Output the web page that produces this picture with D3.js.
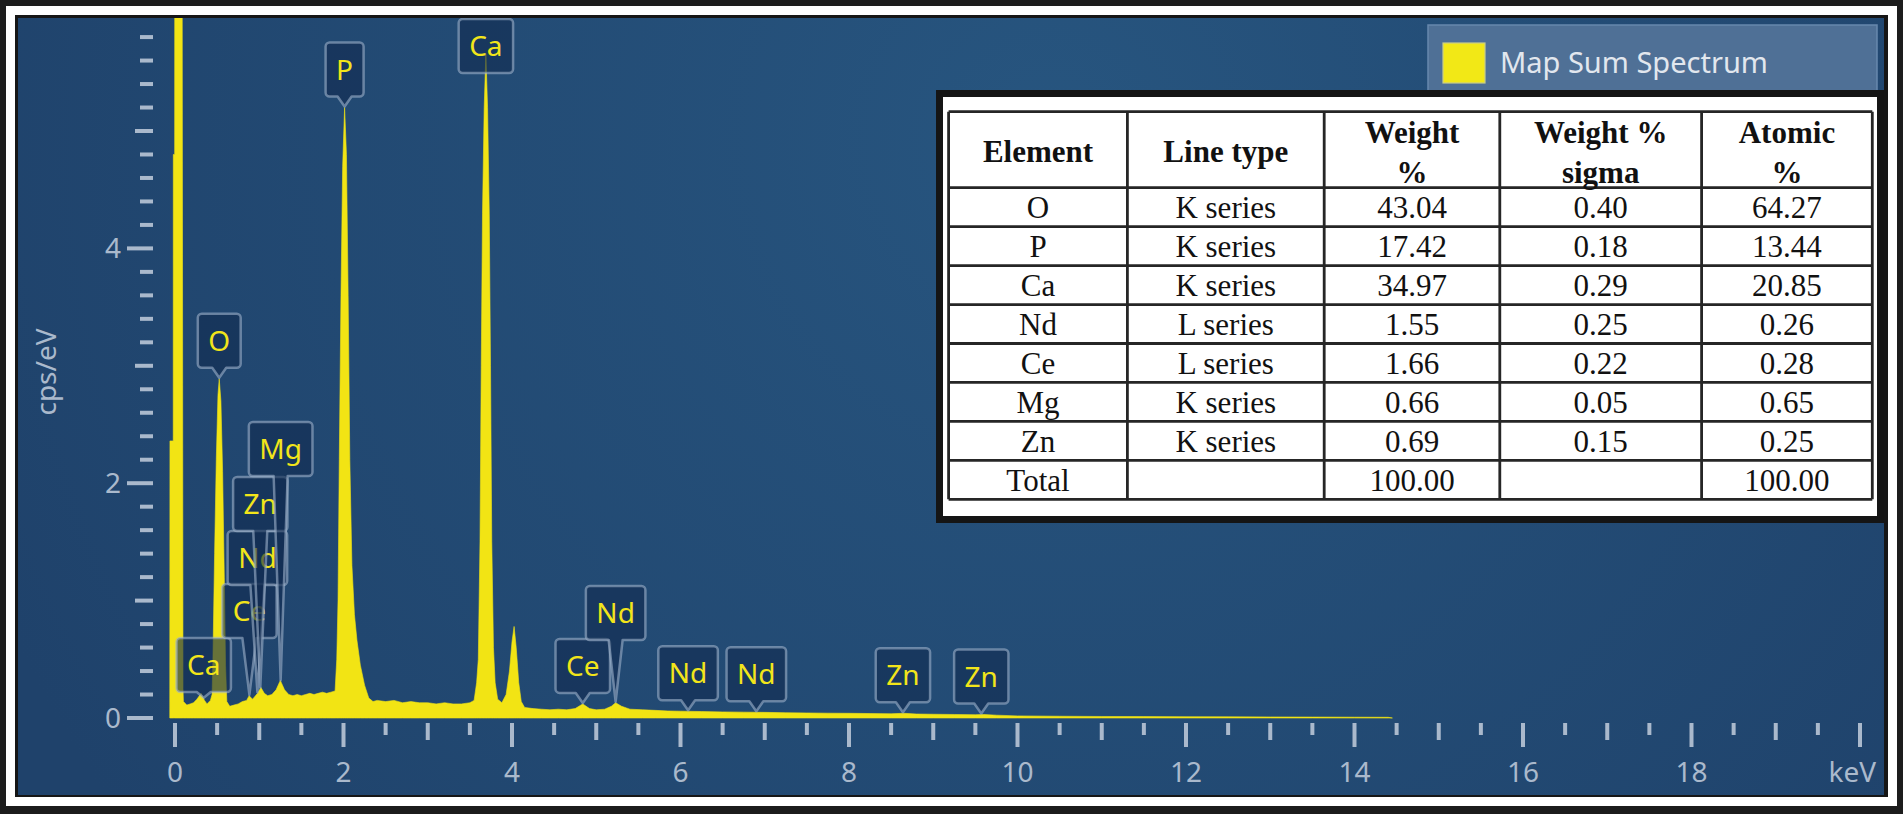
<!DOCTYPE html>
<html>
<head>
<meta charset="utf-8">
<script src="https://cdn.jsdelivr.net/npm/d3@7"></script>
<style>
html,body{margin:0;padding:0;background:#fff;overflow:hidden}
svg{display:block}
</style>
</head>
<body>
<svg id="chart" width="1903" height="814"></svg>
<script>
// ---------------- DATA ----------------
// EDS spectrum: energy (keV) and intensity (cps/eV)
const energies = [
  -0.062,-0.06,-0.021,-0.02,-0.004,-0.003,0.085,0.095,
  0.10,0.14,0.18,0.22,0.26,0.31,0.35,0.38,0.42,0.44,
  0.45,0.47,0.49,0.51,0.525,0.545,0.565,0.585,0.60,0.615,
  0.65,0.70,0.75,0.80,0.85,0.88,0.92,0.98,1.02,1.06,
  1.10,1.15,1.20,1.25,1.30,1.35,1.40,1.45,1.50,1.55,
  1.60,1.65,1.70,1.75,1.80,1.85,1.90,1.92,1.935,1.95,
  1.97,1.99,2.013,2.035,2.055,2.075,2.10,2.13,2.16,2.20,
  2.25,2.30,2.35,2.40,2.50,2.60,2.70,2.80,2.90,3.00,
  3.10,3.20,3.30,3.40,3.50,3.55,3.58,3.60,3.62,3.635,
  3.65,3.67,3.69,3.71,3.73,3.745,3.76,3.78,3.80,3.83,
  3.88,3.93,3.97,4.00,4.025,4.05,4.08,4.11,4.15,4.25,
  4.35,4.45,4.55,4.65,4.75,4.84,4.92,5.00,5.10,5.18,
  5.23,5.30,5.40,5.55,5.70,5.85,6.00,6.25,6.50,6.75,
  7.00,7.25,7.50,7.75,8.00,8.25,8.50,8.65,8.80,9.00,
  9.25,9.50,9.60,9.75,10.0,10.5,11.0,11.5,12.0,12.5,
  13.0,13.5,14.0,14.4,14.45
];
const counts = [
  0,2.36,2.36,4.8,4.8,6.6,6.6,0.25,
  0.14,0.11,0.12,0.13,0.16,0.21,0.15,0.12,0.15,0.2,
  0.5,1.4,2.2,2.75,2.89,2.7,2.1,1.2,0.45,0.14,
  0.10,0.11,0.12,0.14,0.15,0.19,0.16,0.21,0.26,0.21,
  0.19,0.2,0.24,0.32,0.24,0.2,0.19,0.2,0.19,0.2,
  0.21,0.2,0.21,0.22,0.21,0.22,0.23,0.5,1.0,2.2,
  3.6,4.7,5.2,4.8,3.6,2.2,1.3,0.88,0.66,0.45,
  0.28,0.17,0.14,0.15,0.14,0.15,0.13,0.14,0.13,0.13,
  0.12,0.13,0.12,0.12,0.13,0.15,0.3,0.5,1.5,3.0,
  4.3,5.2,5.66,5.2,4.3,3.0,1.5,0.6,0.3,0.16,
  0.13,0.2,0.4,0.65,0.78,0.6,0.3,0.14,0.09,0.08,
  0.075,0.07,0.075,0.07,0.08,0.12,0.08,0.07,0.075,0.1,
  0.13,0.1,0.075,0.07,0.065,0.06,0.058,0.055,0.052,0.05,
  0.048,0.045,0.043,0.041,0.04,0.038,0.036,0.04,0.034,0.032,
  0.03,0.028,0.03,0.024,0.018,0.015,0.013,0.012,0.011,0.01,
  0.009,0.008,0.007,0.006,0
];

// element markers on the spectrum
const markerElements = ["Ca","Ce","Nd","Zn","Mg","O","P","Ca","Ce","Nd","Nd","Nd","Zn","Zn"];
const markerEnergies = [0.341,0.883,0.978,1.012,1.254,0.525,2.013,3.69,4.84,5.23,6.09,6.90,8.64,9.57];

// axis tick labels
const xTickLabels = ["0","2","4","6","8","10","12","14","16","18","keV"];
const yTickLabels = ["0","2","4"];
const yAxisTitle = "cps/eV";
const legendLabel = "Map Sum Spectrum";

// quantification table
const tableHeaders = [["Element"],["Line type"],["Weight","%"],["Weight %","sigma"],["Atomic","%"]];
const tableElements = ["O","P","Ca","Nd","Ce","Mg","Zn","Total"];
const tableLineTypes = ["K series","K series","K series","L series","L series","K series","K series",""];
const tableWeightPct = [43.04,17.42,34.97,1.55,1.66,0.66,0.69,100.00];
const tableWeightSigma = [0.40,0.18,0.29,0.25,0.22,0.05,0.15,null];
const tableAtomicPct = [64.27,13.44,20.85,0.26,0.28,0.65,0.25,100.00];

// ---------------- LAYOUT ----------------
const W = 1903, H = 814;
const panel = {x:18, y:18, w:1866, h:777};
const FONT = "'Noto Sans', 'Open Sans', sans-serif";
const axisColor = "#aab9cc";
// stacked marker boxes (bottom edge, px) for crowded low-energy lines
const markerStackBottom = {0:692, 1:638, 2:585, 3:531, 4:476, 9:640};

const svg = d3.select("#chart");
const defs = svg.append("defs");

const rg = defs.append("radialGradient").attr("id","bg")
  .attr("gradientUnits","userSpaceOnUse")
  .attr("cx",1050).attr("cy",140).attr("r",1150);
rg.append("stop").attr("offset","0%").attr("stop-color","#27557f");
rg.append("stop").attr("offset","100%").attr("stop-color","#1f426b");

defs.append("clipPath").attr("id","panelClip")
  .append("rect").attr("x",panel.x).attr("y",panel.y).attr("width",panel.w).attr("height",panel.h);

// frames
svg.append("rect").attr("width",W).attr("height",H).attr("fill","#1c1c1c");
svg.append("rect").attr("x",6).attr("y",6).attr("width",1891).attr("height",800).attr("fill","#ffffff");
svg.append("rect").attr("x",15).attr("y",15).attr("width",1873).attr("height",782).attr("fill","#161616");
svg.append("rect").attr("x",panel.x).attr("y",panel.y).attr("width",panel.w).attr("height",panel.h).attr("fill","url(#bg)");

// scales
const x = d3.scaleLinear().domain([0,20]).range([175,1860]);
const y = d3.scaleLinear().domain([0,5]).range([718,718-5*117.4]);

// ---------- y axis ----------
const yTicks = d3.range(0,30).map(i => +(i*0.2).toFixed(1));
const gY = svg.append("g");
gY.selectAll("line").data(yTicks).join("line")
  .attr("x1", v => 153 - (Math.abs(v%2) < 1e-6 ? 26 : (Math.abs(v - Math.round(v)) < 1e-6 ? 18 : 13)))
  .attr("x2", 153)
  .attr("y1", v => y(v)).attr("y2", v => y(v))
  .attr("stroke", axisColor).attr("stroke-width",4);
gY.selectAll("text").data(yTickLabels).join("text")
  .attr("x",121).attr("y", d => y(+d) + 10)
  .attr("text-anchor","end")
  .attr("font-family",FONT).attr("font-size",28).attr("fill",axisColor)
  .text(d => d);
svg.append("text")
  .attr("transform","translate(56,372) rotate(-90)")
  .attr("text-anchor","middle")
  .attr("font-family",FONT).attr("font-size",28).attr("fill",axisColor)
  .text(yAxisTitle);

// ---------- x axis ----------
const xTicks = d3.range(0,41).map(i => i*0.5);
const gX = svg.append("g");
gX.selectAll("line").data(xTicks).join("line")
  .attr("x1", v => x(v)).attr("x2", v => x(v))
  .attr("y1", 723)
  .attr("y2", v => 723 + (v % 2 === 0 ? 24 : (v % 1 === 0 ? 17 : 12)))
  .attr("stroke", axisColor).attr("stroke-width",4);
gX.selectAll("text").data(xTickLabels).join("text")
  .attr("x", (d,i) => d === "keV" ? 1876 : x(i*2))
  .attr("y", 782)
  .attr("text-anchor", d => d === "keV" ? "end" : "middle")
  .attr("font-family",FONT).attr("font-size",28).attr("fill",axisColor)
  .text(d => d);

// ---------- spectrum ----------
const spectrum = d3.zip(energies, counts);
const area = d3.area()
  .x(d => x(d[0])).y0(y(0)).y1(d => y(d[1]))
  .curve(d3.curveLinear);
svg.append("path").datum(spectrum)
  .attr("clip-path","url(#panelClip)")
  .attr("d", area)
  .attr("fill","#f2e414")
  .attr("stroke","#f2e414").attr("stroke-width",0.6);

// ---------- element markers ----------
function valueAt(e){
  const i = d3.bisectLeft(energies, e);
  if (i <= 0) return counts[0];
  if (i >= energies.length) return counts[counts.length-1];
  const t = (e - energies[i-1])/(energies[i]-energies[i-1]);
  return counts[i-1] + t*(counts[i]-counts[i-1]);
}
function labelPath(x0,y0,x1,y1,r,cx,hw,tx,ty,wedge){
  const p = d3.path();
  p.moveTo(x0+r,y0);
  p.lineTo(x1-r,y0); p.arcTo(x1,y0,x1,y0+r,r);
  p.lineTo(x1,y1-r); p.arcTo(x1,y1,x1-r,y1,r);
  if (wedge){ p.lineTo(cx+hw,y1); p.lineTo(tx,ty); p.lineTo(cx-hw,y1); }
  p.lineTo(x0+r,y1); p.arcTo(x0,y1,x0,y1-r,r);
  p.lineTo(x0,y0+r); p.arcTo(x0,y0,x0+r,y0,r);
  p.closePath();
  return p.toString();
}
const gM = svg.append("g").attr("clip-path","url(#panelClip)");
markerElements.forEach((el, i) => {
  const e = markerEnergies[i];
  const tx = x(e), ty = y(valueAt(e)) - 1;
  const g = gM.append("g");
  const t = g.append("text").attr("font-family",FONT).attr("font-size",28).text(el);
  const tw = t.node().getComputedTextLength();
  const bw = tw + 21, bh = 54;
  let bottom = (i in markerStackBottom) ? markerStackBottom[i] : ty - 10;
  let top = bottom - bh;
  let wedge = true;
  if (top < panel.y + 1){ top = panel.y + 1; bottom = top + bh; wedge = false; }
  const cx = tx;
  g.insert("path","text")
    .attr("d", labelPath(cx-bw/2, top, cx+bw/2, bottom, 4, cx, 7, tx, ty, wedge))
    .attr("fill","#112b50").attr("fill-opacity",0.62)
    .attr("stroke","#9fb3cb").attr("stroke-opacity",0.6).attr("stroke-width",2.5)
    .attr("stroke-linejoin","round");
  t.attr("x",cx).attr("y",(top+bottom)/2 + 10)
    .attr("text-anchor","middle").attr("fill","#f2e51a");
});

// ---------- legend ----------
svg.append("rect").attr("x",1428).attr("y",25).attr("width",449).attr("height",80)
  .attr("fill","#4f7096").attr("stroke","#6788ad").attr("stroke-width",1.5);
svg.append("rect").attr("x",1443).attr("y",43).attr("width",42).attr("height",40)
  .attr("fill","#f2e816").attr("stroke","#c9cc8a").attr("stroke-width",1.2);
svg.append("text").attr("x",1500).attr("y",73)
  .attr("font-family",FONT).attr("font-size",29).attr("fill","#e2e7ee")
  .text(legendLabel);

// ---------- table ----------
const SERIF = "'Liberation Serif', 'Times New Roman', serif";
svg.append("rect").attr("x",939.5).attr("y",93.5).attr("width",941).attr("height",426)
  .attr("fill","#ffffff").attr("stroke","#151515").attr("stroke-width",7);
const colEdges = [948.6, 1127.4, 1324.2, 1499.8, 1701.6, 1872.3];
const headTop = 111.7, headBottom = 187.7, tableBottom = 499.3;
const rowScale = d3.scaleBand().domain(d3.range(tableElements.length)).range([headBottom, tableBottom]);
const gT = svg.append("g");
// grid
const hLines = [headTop, headBottom].concat(d3.range(1, tableElements.length).map(i => rowScale(i)), [tableBottom]);
gT.selectAll("line.h").data(hLines).join("line").attr("class","h")
  .attr("x1",colEdges[0]).attr("x2",colEdges[colEdges.length-1])
  .attr("y1",d=>d).attr("y2",d=>d)
  .attr("stroke","#262626").attr("stroke-width",2.8);
gT.selectAll("line.v").data(colEdges).join("line").attr("class","v")
  .attr("x1",d=>d).attr("x2",d=>d).attr("y1",headTop).attr("y2",tableBottom)
  .attr("stroke","#262626").attr("stroke-width",2.8);
const colCenter = i => (colEdges[i] + colEdges[i+1]) / 2;
// header
tableHeaders.forEach((lines, c) => {
  const txt = gT.append("text").attr("font-family",SERIF).attr("font-weight","bold")
    .attr("font-size",31).attr("fill","#111").attr("text-anchor","middle");
  if (lines.length === 1){
    txt.append("tspan").attr("x",colCenter(c)).attr("y",161.5).text(lines[0]);
  } else {
    txt.append("tspan").attr("x",colCenter(c)).attr("y",143).text(lines[0]);
    txt.append("tspan").attr("x",colCenter(c)).attr("y",183).text(lines[1]);
  }
});
// body
const fmt = v => v === null ? "" : v.toFixed(2);
const columns = [tableElements, tableLineTypes, tableWeightPct.map(fmt), tableWeightSigma.map(fmt), tableAtomicPct.map(fmt)];
columns.forEach((col, c) => {
  gT.selectAll(null).data(col).join("text")
    .attr("x", colCenter(c))
    .attr("y", (d,r) => rowScale(r) + rowScale.bandwidth()/2 + 11)
    .attr("text-anchor","middle")
    .attr("font-family",SERIF).attr("font-size",31).attr("fill","#111")
    .text(d => d);
});
</script>
</body>
</html>
